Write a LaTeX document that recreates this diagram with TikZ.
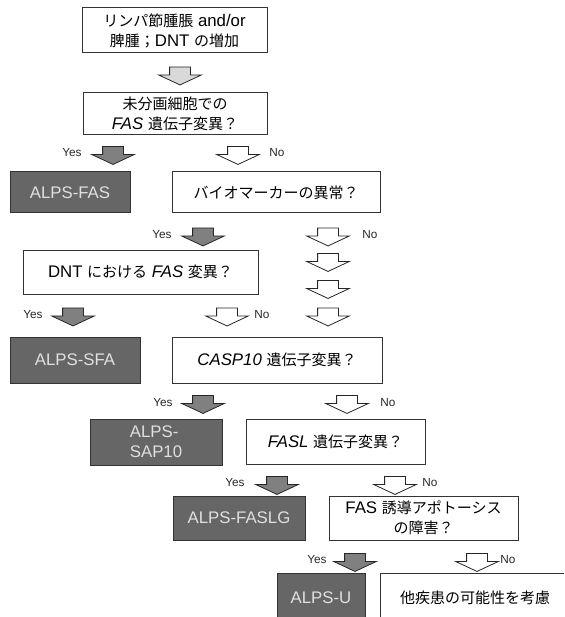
\documentclass[tikz,border=0pt]{standalone}
\usepackage{fontspec}
\setmainfont{Liberation Sans}[Scale=1.12]
\newfontfamily\jp{Noto Sans CJK JP}
\usepackage{tikz}
\usetikzlibrary{shapes,shapes.arrows}

\tikzset{
  box/.style={draw=black!80,line width=1pt,fill=white,align=center,inner sep=1pt,font=\fontsize{15}{20}\selectfont},
  alps/.style={box,fill=black!60,text=black!12},
  flow/.style={single arrow,draw=black!85,line width=0.8pt,rotate=-90,minimum height=18pt,inner xsep=0pt,inner ysep=10pt,single arrow head extend=11pt,single arrow tip angle=130},
  yesflow/.style={flow,fill=black!50},
  noflow/.style={flow,fill=white},
  ans/.style={font=\fontsize{10.5}{12}\selectfont,text=black!85}
}

\begin{document}
\begin{tikzpicture}[x=1pt,y=-1pt]
   \useasboundingbox (0,0) rectangle (564,617);
   \clip (0,0) rectangle (564,617);

   % questions
   \node[box,minimum width=185pt,minimum height=45pt] (start) at (174.5,30.5) {{\jp リンパ節腫脹} and/or\\{\jp 脾腫；}DNT {\jp の増加}};
   \node[box,minimum width=184pt,minimum height=42pt] (qfas) at (175,114) {{\jp 未分画細胞での}\\\textit{FAS} {\jp 遺伝子変異？}};
   \node[box,minimum width=208pt,minimum height=41pt] (qbio) at (276,192.5) {{\jp バイオマーカーの異常？}};
   \node[box,minimum width=235pt,minimum height=44pt] (qdnt) at (140.5,272) {DNT {\jp における} \textit{FAS} {\jp 変異？}};
   \node[box,minimum width=210pt,minimum height=46pt] (qcasp) at (277,360) {\textit{CASP10} {\jp 遺伝子変異？}};
   \node[box,minimum width=179pt,minimum height=45pt] (qfasl) at (335.5,441.5) {\textit{FASL} {\jp 遺伝子変異？}};
   \node[box,minimum width=189pt,minimum height=44pt] (qapo) at (423.5,518) {FAS {\jp 誘導アポトーシス}\\{\jp の障害？}};
   \node[box,minimum width=190pt,minimum height=50pt] (other) at (475,598) {{\jp 他疾患の可能性を考慮}};

   % results
   \node[alps,minimum width=120pt,minimum height=41pt] (rfas) at (70,192.5) {ALPS-FAS};
   \node[alps,minimum width=130pt,minimum height=46pt] (rsfa) at (75,360) {ALPS-SFA};
   \node[alps,minimum width=132pt,minimum height=46pt,align=left] (rcasp) at (156,442) {ALPS-\\SAP10};
   \node[alps,minimum width=132pt,minimum height=44pt] (rfasl) at (239,518) {ALPS-FASLG};
   \node[alps,minimum width=88pt,minimum height=50pt] (ru) at (321,598) {ALPS-U};

   % arrows
   \node[flow,fill=black!15] (a0) at (180,73.5) {};
   \foreach \name/\x/\y in {ya1/113/153,ya2/203/234.5,ya3/73/314.5,ya4/203/402,ya5/277/483,ya6/355/560}
      {\node[yesflow] (\name) at (\x,\y) {};}
   \foreach \name/\x/\y in {na1/238/153,na2/328/234.5,na2b/328/260,na2c/328/287,na2d/328/314.5,na3/227/314.5,na4/347/402,na5/395/483,na6/477/560}
      {\node[noflow] (\name) at (\x,\y) {};}

   % labels
   \foreach \name/\x/\y in {yes1/72/153,yes2/162/235,yes3/33/315,yes4/163/403,yes5/235/483,yes6/317/560}
      {\node[ans] (\name) at (\x,\y) {Yes};}
   \foreach \name/\x/\y in {no1/277/153,no2/370/235,no3/262/315,no4/388/403,no5/430/483,no6/508/560}
      {\node[ans] (\name) at (\x,\y) {No};}
\end{tikzpicture}
\end{document}
